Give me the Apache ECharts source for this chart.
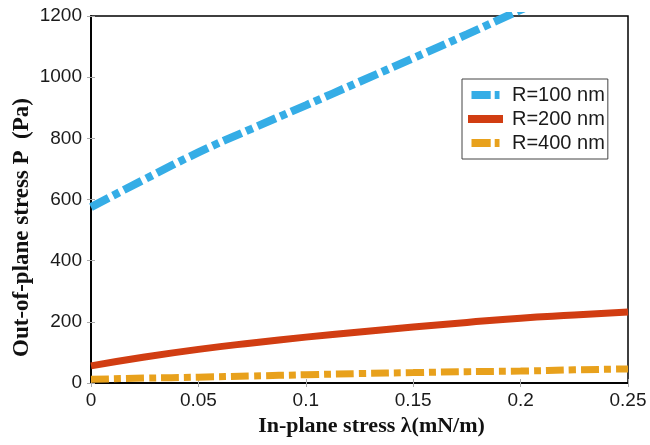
<!DOCTYPE html>
<html>
<head>
<meta charset="utf-8">
<script src="https://cdn.jsdelivr.net/npm/echarts@6/dist/echarts.min.js"></script>
<style>
  html, body { margin: 0; padding: 0; background: #fff; }
  #main { width: 650px; height: 445px; }
</style>
</head>
<body>
<div id="main"></div>
<script>
// data
var lambda = [0, 0.025, 0.05, 0.075, 0.1, 0.125, 0.15, 0.175, 0.2, 0.225, 0.25];
var p100 = [575, 666, 754, 832, 908, 985, 1062, 1140, 1220, 1298, 1372];
var p200 = [56, 85, 110, 131, 150, 167, 183, 198, 212, 222, 232];
var p400 = [12, 16, 19, 23, 27, 31, 34, 37, 39, 43, 46];
var names = ['R=100 nm', 'R=200 nm', 'R=400 nm'];

function pairs(ys) {
  return lambda.map(function (x, i) { return [x, ys[i]]; });
}

var myChart = echarts.init(document.getElementById('main'));

var tickFont = { fontFamily: 'Liberation Sans, Arial, sans-serif', fontSize: 19, color: '#1a1a1a' };
var nameFont = { fontFamily: 'Liberation Serif, Times New Roman, serif', fontWeight: 'bold', color: '#111' };
var dashIcon = 'path://M0,0H24V10H0Z M29,0H35V10H29Z';
var tickStyle = { inside: true, length: 4, lineStyle: { color: '#aaa' } };

var option = {
  animation: false,
  grid: {
    left: 91, right: 22, top: 16, bottom: 62,
    show: true, borderColor: '#000', borderWidth: 1.5, backgroundColor: '#fff'
  },
  legend: {
    data: [
      { name: names[0], icon: dashIcon },
      { name: names[1], icon: 'rect' },
      { name: names[2], icon: dashIcon }
    ],
    orient: 'vertical',
    left: 462, top: 79,
    itemWidth: 35, itemHeight: 8, itemGap: 4,
    padding: [6, 3, 6, 6],
    borderColor: '#444', borderWidth: 1,
    textStyle: { fontFamily: 'Liberation Sans, Arial, sans-serif', fontSize: 20, color: '#1a1a1a', padding: [0, 0, 0, 4] }
  },
  xAxis: [{
    type: 'value',
    min: 0, max: 0.25, interval: 0.05,
    name: 'In-plane stress λ(mN/m)',
    nameLocation: 'middle', nameGap: 31,
    nameTextStyle: Object.assign({ fontSize: 22, padding: [0, 0, 0, 24] }, nameFont),
    axisLine: { lineStyle: { color: '#000', width: 1.5 } },
    axisTick: tickStyle,
    axisLabel: Object.assign({ margin: 8 }, tickFont),
    splitLine: { show: false }
  }, {
    type: 'value', position: 'top',
    min: 0, max: 0.25, interval: 0.05,
    axisLine: { lineStyle: { color: '#000', width: 1.5 } },
    axisTick: tickStyle,
    axisLabel: { show: false },
    splitLine: { show: false }
  }],
  yAxis: [{
    type: 'value',
    min: 0, max: 1200, interval: 200,
    name: 'Out-of-plane stress P  (Pa)',
    nameLocation: 'middle', nameGap: 57, nameRotate: 90, nameMoveOverlap: false,
    nameTextStyle: Object.assign({ fontSize: 23, padding: [0, 56, 0, 0] }, nameFont),
    axisLine: { lineStyle: { color: '#000', width: 1.5 } },
    axisTick: tickStyle,
    axisLabel: Object.assign({ margin: 9, formatter: function (v) { return String(v); } }, tickFont),
    splitLine: { show: false }
  }, {
    type: 'value', position: 'right',
    min: 0, max: 1200, interval: 200,
    axisLine: { lineStyle: { color: '#000', width: 1.5 } },
    axisTick: tickStyle,
    axisLabel: { show: false },
    splitLine: { show: false }
  }],
  series: [{
    name: names[0], type: 'line', smooth: true, symbol: 'none', clip: true,
    color: '#35ade6',
    lineStyle: { width: 8, color: '#35ade6', type: [20, 5, 7, 5] },
    data: pairs(p100)
  }, {
    name: names[1], type: 'line', smooth: true, symbol: 'none', clip: true,
    color: '#d13d12',
    lineStyle: { width: 7, color: '#d13d12' },
    data: pairs(p200)
  }, {
    name: names[2], type: 'line', smooth: true, symbol: 'none', clip: true,
    color: '#e8a11c',
    lineStyle: { width: 7, color: '#e8a11c', type: [18, 5, 7, 5] },
    data: pairs(p400)
  }]
};
myChart.setOption(option);
</script>
</body>
</html>
